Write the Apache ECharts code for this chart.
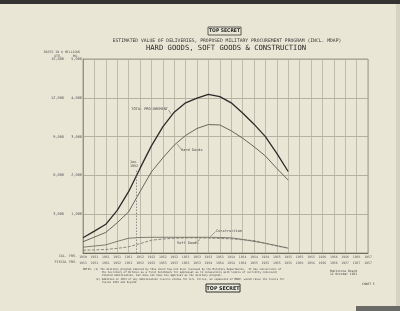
<!DOCTYPE html>
<html><head><meta charset="utf-8">
<script src="https://cdn.jsdelivr.net/npm/echarts@6/dist/echarts.min.js"></script>
<style>html,body{margin:0;padding:0;background:#e9e6d5}#c{width:400px;height:311px}</style>
</head><body><div id="c"></div>
<script>
// Quarter index (0 = first quarter boundary on the chart)
const quarterIndex = [0,1,2,3,4,5,6,7,8,9,10,11,12,13,14,15,16,17,18];
// Monthly rate of deliveries, $ millions
const totalProcurement = [394,565,740,1100,1580,2180,2760,3250,3630,3870,3990,4090,4030,3870,3610,3320,3000,2570,2100];
const hardGoods        = [290,410,530,780,1060,1580,2090,2450,2780,3030,3210,3310,3300,3150,2960,2740,2500,2180,1880];
const construction     = [150,180,210,300,380,400,405,405,405,405,405,405,400,390,350,300,250,190,125];
const softGoods        = [70,80,90,120,160,240,330,360,380,390,390,385,375,365,340,320,250,180,125];
// Tick labels
const qtrLabels = ['','3,000','6,000','9,000','12,000','15,000'];
const moLabels  = ['','1,000','2,000','3,000','4,000','5,000'];
const calYears    = ['1950','1951','1951','1951','1951','1952','1952','1952','1952','1953','1953','1953','1953','1954','1954','1954','1954','1955','1955','1955','1955','1956','1956','1956','1956','1957'];
const fiscalYears = ['1951','1951','1951','1952','1952','1952','1952','1953','1953','1953','1953','1954','1954','1954','1954','1955','1955','1955','1955','1956','1956','1956','1956','1957','1957','1957'];
const todayMark = 4.65;

const pair = arr => quarterIndex.map((q,i)=>[q,arr[i]]);
const ink = '#2e2e2c';
const mono = 'DejaVu Sans Mono';

const chart = echarts.init(document.getElementById('c'), null, {renderer:'canvas'});
chart.setOption({
  backgroundColor:'#e9e6d5',
  animation:false,
  grid:{left:83, right:32, top:59, bottom:58, show:true, borderColor:'#8c8a7a', borderWidth:0.8},
  xAxis:{type:'value', min:0, max:25, interval:1,
    axisLine:{show:true, lineStyle:{color:'#6e6c60', width:1}},
    axisTick:{show:false},
    splitLine:{show:true, lineStyle:{color:'#b3b19f', width:0.8}},
    axisLabel:{show:true, margin:1.5, interval:0, showMinLabel:true, showMaxLabel:true,
      formatter:v=>'{c|'+calYears[v]+'}\n{f|'+fiscalYears[v]+'}',
      rich:{c:{fontSize:3.2, fontFamily:mono, color:'#555', lineHeight:5.6},
            f:{fontSize:3.2, fontFamily:mono, color:'#555', lineHeight:5.6}}}
  },
  yAxis:{type:'value', min:0, max:5000, interval:1000,
    axisLine:{show:true, lineStyle:{color:'#8c8a7a', width:0.8}},
    axisTick:{show:false},
    splitLine:{show:true, lineStyle:{color:'#a5a392', width:0.8}},
    axisLabel:{margin:1, formatter:v=>{const i=v/1000; return i===0?'':'{q|'+qtrLabels[i]+'}{m|'+moLabels[i]+'}';},
      rich:{q:{width:18, align:'right', fontSize:3.6, fontFamily:mono, color:'#555'},
            m:{width:18, align:'right', fontSize:3.6, fontFamily:mono, color:'#555'}}}
  },
  series:[
    {name:'Total Procurement', type:'line', data:pair(totalProcurement), symbol:'none', lineStyle:{color:'#2b2b29', width:1.3},
     markLine:{silent:true, symbol:'none', label:{show:false}, lineStyle:{color:'#777', type:[1.5,1.5], width:0.8},
       data:[[{coord:[todayMark,0]},{coord:[todayMark,2120]}]]}},
    {name:'Hard Goods', type:'line', data:pair(hardGoods), symbol:'none', lineStyle:{color:'#58584f', width:0.9}},
    {name:'Construction', type:'line', data:pair(construction), symbol:'none', lineStyle:{color:'#62625a', width:0.8}},
    {name:'Soft Goods', type:'line', data:pair(softGoods), symbol:'none', lineStyle:{color:'#707066', width:0.8, type:[3,1.5]}}
  ],
  graphic:[
    {type:'rect', shape:{x:0,y:0,width:400,height:4}, style:{fill:'#333331'}},
    {type:'rect', shape:{x:396,y:4,width:4,height:307}, style:{fill:'#d6d3c2'}},
    {type:'rect', shape:{x:356,y:306,width:44,height:5}, style:{fill:'#6a6a66'}},
    // top stamp
    {type:'rect', shape:{x:208,y:27,width:33,height:8}, style:{fill:'none', stroke:'#3a3a38', lineWidth:0.8}},
    {type:'text', style:{x:224.5,y:31.2,text:'TOP SECRET', font:'bold 5px "DejaVu Sans Condensed","DejaVu Sans"', fill:'#2a2a28', align:'center', verticalAlign:'middle'}},
    {type:'text', style:{x:227,y:41,text:'ESTIMATED VALUE OF DELIVERIES, PROPOSED MILITARY PROCUREMENT PROGRAM (INCL. MDAP)', font:'4.7px '+mono, fill:'#3a3a38', align:'center', verticalAlign:'middle'}},
    {type:'text', style:{x:226,y:48.3,text:'HARD GOODS, SOFT GOODS & CONSTRUCTION', font:'7.2px '+mono, fill:'#2a2a28', align:'center', verticalAlign:'middle'}},
    {type:'text', style:{x:62,y:52,text:'RATES IN $ MILLIONS', font:'3.2px '+mono, fill:'#555', align:'center', verticalAlign:'middle'}},
    {type:'text', style:{x:58,y:56,text:'QTR.', font:'3.2px '+mono, fill:'#555', align:'center', verticalAlign:'middle'}},
    {type:'text', style:{x:76,y:56,text:'MO.', font:'3.2px '+mono, fill:'#555', align:'center', verticalAlign:'middle'}},
    {type:'text', style:{x:77,y:256.5,text:'CAL. YRS.', font:'3.4px '+mono, fill:'#555', align:'right', verticalAlign:'middle'}},
    {type:'text', style:{x:77,y:262,text:'FISCAL YRS.', font:'3.4px '+mono, fill:'#555', align:'right', verticalAlign:'middle'}},
    // annotations
    {type:'text', style:{x:168,y:109.5,text:'TOTAL PROCUREMENT', font:'3.6px '+mono, fill:'#444', align:'right', verticalAlign:'middle'}},
    {type:'line', shape:{x1:168.5,y1:110,x2:171,y2:114}, style:{stroke:'#555', lineWidth:0.5}},
    {type:'text', style:{x:181,y:150,text:'Hard Goods', font:'3.6px '+mono, fill:'#444', align:'left', verticalAlign:'middle'}},
    {type:'line', shape:{x1:177,y1:144,x2:181,y2:149}, style:{stroke:'#555', lineWidth:0.5}},
    {type:'text', style:{x:216,y:230.8,text:'Construction', font:'3.6px '+mono, fill:'#444', align:'left', verticalAlign:'middle'}},
    {type:'line', shape:{x1:215.5,y1:231.5,x2:210.5,y2:236.5}, style:{stroke:'#555', lineWidth:0.5}},
    {type:'text', style:{x:177,y:242.8,text:'Soft Goods', font:'3.6px '+mono, fill:'#444', align:'left', verticalAlign:'middle'}},
    {type:'line', shape:{x1:196,y1:242.5,x2:200,y2:239.5}, style:{stroke:'#555', lineWidth:0.5}},
    {type:'text', style:{x:134,y:164.5,text:'Jan.\n1952', font:'3.4px '+mono, lineHeight:4, fill:'#444', align:'center', verticalAlign:'middle'}},
    // notes
    {type:'text', style:{x:83,y:268.5,text:'NOTES: (1) The military program implied by this chart has not been reviewed by the Military Departments.  It has concurrence of\n            the Secretary of Defense as a first benchmark for appraisal as to consistency with limits of currently conceived\n            limited mobilization, but does not have his approval as the military program.', font:'2.6px '+mono, lineHeight:2.6, fill:'#444', align:'left', verticalAlign:'top'}},
    {type:'text', style:{x:83,y:278.2,text:'        (2) Addition in 1953 of any mobilization reserve stocks for U.S. Forces, an expansion of MDAP, would raise the levels for\n            fiscal 1953 and beyond.', font:'2.6px '+mono, lineHeight:2.6, fill:'#444', align:'left', verticalAlign:'top'}},
    {type:'text', style:{x:330,y:273,text:'Munitions Board\n12 October 1951', font:'3px '+mono, lineHeight:3.4, fill:'#444', align:'left', verticalAlign:'middle'}},
    {type:'text', style:{x:362,y:284.5,text:'CHART 5', font:'3px '+mono, fill:'#444', align:'left', verticalAlign:'middle'}},
    // bottom stamp
    {type:'rect', shape:{x:206,y:284,width:34,height:8}, style:{fill:'#ecebe0', stroke:'#2e2e2c', lineWidth:1}},
    {type:'text', style:{x:223,y:288.2,text:'TOP SECRET', font:'bold 5.3px "DejaVu Sans Condensed","DejaVu Sans"', fill:'#222', align:'center', verticalAlign:'middle'}}
  ]
});
</script></body></html>
